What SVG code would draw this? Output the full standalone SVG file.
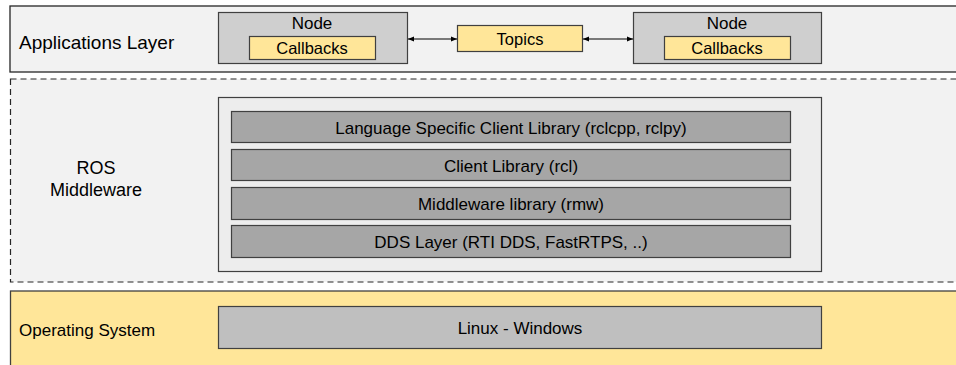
<svg xmlns="http://www.w3.org/2000/svg" width="956" height="365" viewBox="0 0 956 365">
<style>
text{font-family:"Liberation Sans",Arial,sans-serif;fill:#000;}
.t{font-size:16.5px;text-anchor:middle;dominant-baseline:central;}
.lt{font-size:17px;text-anchor:middle;dominant-baseline:central;}
.ros{font-size:18px;text-anchor:middle;dominant-baseline:central;}
.lbl{font-size:19px;dominant-baseline:central;}
.lbl2{font-size:17px;dominant-baseline:central;}
.band{fill:#f2f2f2;stroke:#262626;stroke-width:1.3;}
.dash{fill:#f2f2f2;stroke:#262626;stroke-width:1.2;stroke-dasharray:6,4;}
.node{fill:#cfcfcf;stroke:#404040;stroke-width:1.2;}
.yel{fill:#ffe699;stroke:#404040;stroke-width:1.2;}
.layer{fill:#a6a6a6;stroke:#404040;stroke-width:1.2;}
.inner{fill:#ededed;stroke:#404040;stroke-width:1.2;}
.os{fill:#ffe699;stroke:#404040;stroke-width:1.3;}
.linux{fill:#bfbfbf;stroke:#404040;stroke-width:1.2;}
.conn{stroke:#000;stroke-width:1.2;fill:none;marker-start:url(#ah);marker-end:url(#ah);}
</style>
<defs>
<marker id="ah" viewBox="0 0 10 10" refX="10" refY="5" markerWidth="6" markerHeight="6" orient="auto-start-reverse" markerUnits="userSpaceOnUse">
<path d="M0,1 L10,5 L0,9 Z" fill="#000"/>
</marker>
</defs>
<rect width="956" height="365" fill="#fff"/>
<g id="apps-layer">
<rect class="band" x="10" y="6" width="960" height="66"/>
<text class="lbl" x="19" y="42">Applications Layer</text>
</g>
<g id="node-left">
<rect class="node" x="218.5" y="12.5" width="189" height="51"/>
<text class="lt" x="312" y="23">Node</text>
<rect class="yel" x="249.5" y="36.5" width="126" height="23"/>
<text class="t" x="312" y="48">Callbacks</text>
</g>
<g id="topics">
<rect class="yel" x="457.5" y="25.5" width="125" height="26"/>
<text class="t" x="520" y="38.5">Topics</text>
</g>
<g id="node-right">
<rect class="node" x="633.5" y="12.5" width="188" height="51"/>
<text class="lt" x="727" y="23">Node</text>
<rect class="yel" x="664.5" y="36.5" width="126" height="23"/>
<text class="t" x="727" y="48">Callbacks</text>
</g>
<g id="connectors">
<line class="conn" x1="408" y1="39" x2="457" y2="39"/>
<line class="conn" x1="583" y1="39" x2="633" y2="39"/>
</g>
<g id="ros-middleware">
<rect class="dash" x="10.5" y="79" width="960" height="203"/>
<text class="ros" x="96" y="168">ROS</text>
<text class="ros" x="96" y="190">Middleware</text>
<rect class="inner" x="218.5" y="97.5" width="603" height="174"/>
</g>
<g id="layer-lang">
<rect class="layer" x="231.5" y="111.5" width="559" height="31"/>
<text class="lt" x="511" y="128">Language Specific Client Library (rclcpp, rclpy)</text>
</g>
<g id="layer-rcl">
<rect class="layer" x="231.5" y="149.5" width="559" height="31"/>
<text class="lt" x="511" y="166">Client Library (rcl)</text>
</g>
<g id="layer-rmw">
<rect class="layer" x="231.5" y="187.5" width="559" height="32"/>
<text class="lt" x="511" y="204">Middleware library (rmw)</text>
</g>
<g id="layer-dds">
<rect class="layer" x="231.5" y="225.5" width="559" height="32"/>
<text class="lt" x="511" y="242">DDS Layer (RTI DDS, FastRTPS, ..)</text>
</g>
<g id="os-layer">
<rect class="os" x="10.5" y="291" width="960" height="90"/>
<text class="lbl2" x="19" y="330">Operating System</text>
</g>
<g id="linux-windows">
<rect class="linux" x="218.5" y="306.5" width="603" height="42"/>
<text class="lt" x="520" y="328">Linux - Windows</text>
</g>
</svg>
